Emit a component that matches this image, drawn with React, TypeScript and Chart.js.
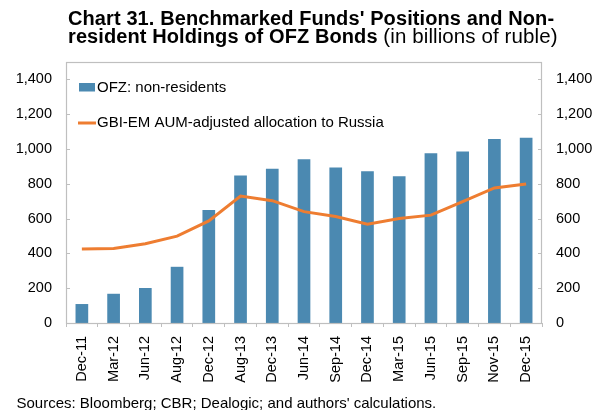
import React, { useEffect, useRef } from "react";
import { Chart, registerables } from "chart.js";

Chart.register(...registerables);

const categories = [
  "Dec-11", "Mar-12", "Jun-12", "Aug-12", "Dec-12", "Aug-13", "Dec-13", "Jun-14",
  "Sep-14", "Dec-14", "Mar-15", "Jun-15", "Sep-15", "Nov-15", "Dec-15",
];
const ofzNonResidents = [109, 168, 201, 323, 650, 847, 887, 941, 893, 872, 843, 975, 985, 1057, 1065];
const gbiAllocation = [425, 428, 455, 499, 587, 730, 703, 640, 612, 568, 600, 620, 698, 776, 799];
const yTicks = [0, 200, 400, 600, 800, 1000, 1200, 1400];
const yMax = 1500;

const seriesNames = ["OFZ: non-residents", "GBI-EM AUM-adjusted allocation to Russia"];

const FONT = "'Liberation Sans', Arial, sans-serif";
const BAR_COLOR = "#4B89B1";
const LINE_COLOR = "#EE7D31";
const FRAME = "#BFBFBF";

const framePlugin = {
  id: "frameAndLegend",
  afterDraw(chart: any) {
    const { ctx, chartArea } = chart;
    const { left, right, top, bottom } = chartArea;
    ctx.save();
    ctx.strokeStyle = FRAME;
    ctx.lineWidth = 1.2;
    ctx.strokeRect(left + 0.5, top + 0.5, right - left - 1, bottom - top);
    const ys = chart.scales.y;
    ctx.lineWidth = 1;
    ys.ticks.forEach((t: any) => {
      const yp = Math.round(ys.getPixelForValue(t.value)) + 0.5;
      ctx.beginPath();
      ctx.moveTo(left, yp);
      ctx.lineTo(left + 4, yp);
      ctx.moveTo(right - 4, yp);
      ctx.lineTo(right, yp);
      ctx.stroke();
    });
    const lx = left + 13;
    ctx.fillStyle = BAR_COLOR;
    ctx.fillRect(lx, top + 21, 16, 8.5);
    ctx.strokeStyle = LINE_COLOR;
    ctx.lineWidth = 3;
    ctx.beginPath();
    ctx.moveTo(lx - 1, top + 61);
    ctx.lineTo(lx + 17, top + 61);
    ctx.stroke();
    ctx.fillStyle = "#000";
    ctx.font = `15px ${FONT}`;
    ctx.textBaseline = "middle";
    ctx.textAlign = "left";
    ctx.fillText(seriesNames[0], lx + 18, top + 25.5);
    ctx.fillText(seriesNames[1], lx + 18, top + 61);
    ctx.restore();
  },
};

export default function App() {
  const ref = useRef<HTMLCanvasElement | null>(null);

  useEffect(() => {
    document.body.style.margin = "0";
    const canvas = ref.current;
    if (!canvas) return;
    const tickFont = { family: FONT, size: 14.5 };
    const yAxis = (position: string, width: number) => ({
      position,
      min: 0,
      max: yMax,
      afterBuildTicks: (s: any) => {
        s.ticks = yTicks.map((v) => ({ value: v }));
      },
      afterFit: (s: any) => {
        s.width = width;
      },
      grid: { display: false, drawTicks: false },
      border: { display: false },
      ticks: {
        font: tickFont,
        color: "#000",
        padding: 14,
        callback: (v: any) => Number(v).toLocaleString("en-US"),
      },
    });
    const chart = new Chart(canvas, {
      type: "bar",
      data: {
        labels: categories,
        datasets: [
          {
            type: "line",
            label: seriesNames[1],
            data: gbiAllocation,
            borderColor: LINE_COLOR,
            backgroundColor: LINE_COLOR,
            borderWidth: 3,
            pointRadius: 0,
            tension: 0,
            yAxisID: "y",
            order: 0,
          },
          {
            type: "bar",
            label: seriesNames[0],
            data: ofzNonResidents,
            backgroundColor: BAR_COLOR,
            barPercentage: 0.4,
            categoryPercentage: 1,
            yAxisID: "y",
            order: 1,
          },
        ],
      } as any,
      options: {
        responsive: false,
        animation: false,
        devicePixelRatio: 1,
        layout: { padding: { top: 62, left: 0, right: 0, bottom: 0 } },
        plugins: { legend: { display: false }, title: { display: false }, tooltip: { enabled: false } },
        scales: {
          x: {
            offset: true,
            afterFit: (s: any) => {
              s.height = 87;
            },
            grid: {
              display: true,
              drawOnChartArea: false,
              drawTicks: true,
              tickLength: 4,
              color: FRAME,
              offset: true,
            },
            border: { display: false },
            ticks: {
              font: tickFont,
              color: "#000",
              minRotation: 90,
              maxRotation: 90,
              padding: 9,
              autoSkip: false,
            },
          },
          y: yAxis("left", 66),
          y1: yAxis("right", 61),
        },
      } as any,
      plugins: [framePlugin],
    });
    return () => chart.destroy();
  }, []);

  return (
    <div style={{ position: "relative", width: 603, height: 410, fontFamily: FONT, color: "#000" }}>
      <canvas ref={ref} width={603} height={410} style={{ position: "absolute", left: 0, top: 0 }} />
      <div
        style={{
          position: "absolute",
          left: 68,
          top: 8.8,
          fontSize: 20,
          lineHeight: "18.5px",
          letterSpacing: "0.1px",
          whiteSpace: "nowrap",
        }}
      >
        <b>Chart 31. Benchmarked Funds' Positions and Non-</b>
        <br />
        <b>resident Holdings of OFZ Bonds</b> <span style={{ fontSize: 20.5 }}>(in billions of ruble)</span>
      </div>
      <div
        style={{
          position: "absolute",
          left: 16.5,
          top: 394.6,
          fontSize: 15,
          lineHeight: "15px",
          whiteSpace: "nowrap",
        }}
      >
        Sources: Bloomberg; CBR; Dealogic; and authors' calculations.
      </div>
    </div>
  );
}
